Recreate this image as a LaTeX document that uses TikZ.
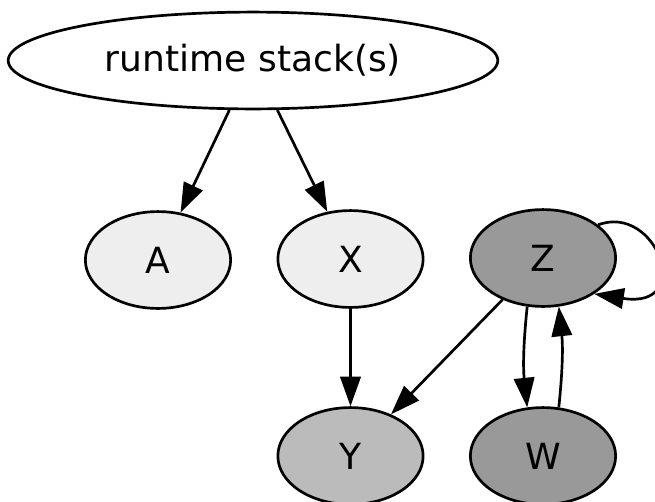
\documentclass[tikz,border=0pt]{standalone}
\usepackage{fontspec}
\setmainfont{DejaVu Sans}
\usepackage{tikz}
\usetikzlibrary{arrows.meta,shapes.geometric}
\usepackage{xcolor}
\definecolor{lightgrey}{HTML}{EEEEEE}
\definecolor{midgrey}{HTML}{BBBBBB}
\definecolor{darkgrey}{HTML}{999999}

\begin{document}
\begin{tikzpicture}[
  x=0.3717pt, y=-0.3717pt,
  font=\fontsize{13.4}{16}\selectfont,
  >={Triangle[length=11pt,width=7.6pt]},
  gnode/.style={
    draw=black,
    ellipse,
    line width=1pt,
    minimum width=54pt,
    minimum height=36pt,
    inner sep=0pt
  },
  flowarrow/.style={->, line width=1pt, draw=black}
]
  \useasboundingbox (0,0) rectangle (655,502);

  % Root: the stack(s)
  \node[gnode, minimum width=182pt, fill=white] (stack) at (253,60.5) {runtime stack(s)};

  % Middle row
  \node[gnode, fill=lightgrey] (nA) at (158,260) {A};
  \node[gnode, fill=lightgrey] (nX) at (350.5,259) {X};
  \node[gnode, fill=darkgrey] (nZ) at (543,258) {Z};

  % Bottom row
  \node[gnode, fill=midgrey] (nY) at (350.5,456) {Y};
  \node[gnode, fill=darkgrey] (nW) at (543,456) {W};

  % Edges
  \draw[flowarrow] (stack) -- (nA);
  \draw[flowarrow] (stack) -- (nX);
  \draw[flowarrow] (nX) -- (nY);
  \draw[flowarrow] (nZ) -- (nY);
  \draw[flowarrow] (nZ.252) to[bend right=6] (nW.108);
  \draw[flowarrow] (nW.72) to[bend right=6] (nZ.288);

  % Self loop on Z
  \draw[flowarrow] (nZ.31) .. controls +(58,-22) and +(102,16) .. (nZ.-35);

\end{tikzpicture}
\end{document}
